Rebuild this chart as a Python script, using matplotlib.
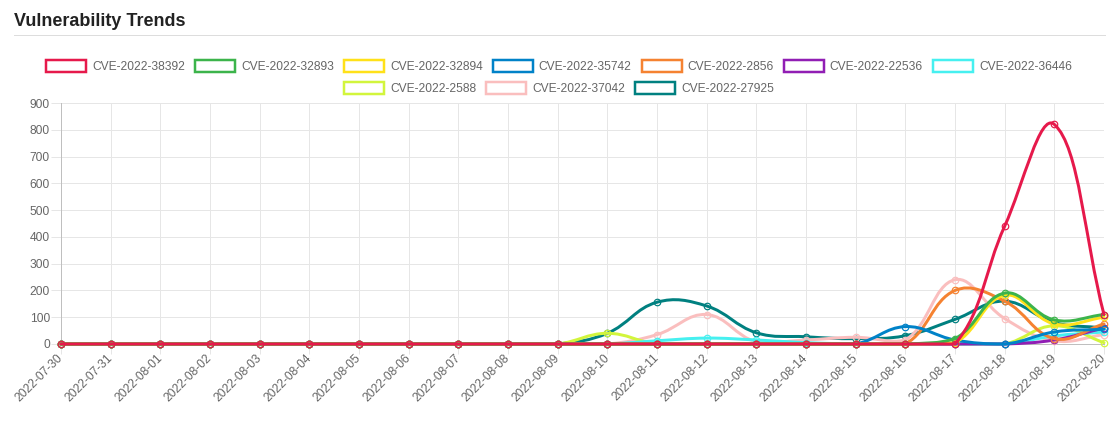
import numpy as np
import pandas as pd
import matplotlib
matplotlib.use("Agg")
import matplotlib.pyplot as plt
from matplotlib.path import Path
from matplotlib.patches import PathPatch, Rectangle
from matplotlib.lines import Line2D

W, H = 1118, 428
DPI = 100
PX = 72 / DPI  # points per pixel

# ---- data ----
dates = [d.strftime("%Y-%m-%d") for d in pd.date_range("2022-07-30", "2022-08-20")]

cve_38392 = [0] * 19 + [440, 820, 110]
cve_32893 = [0] * 18 + [20, 190, 90, 110]
cve_32894 = [0] * 18 + [5, 182, 75, 100]
cve_35742 = [0] * 17 + [65, 15, 0, 45, 55]
cve_2856 = [0] * 18 + [200, 160, 20, 75]
cve_22536 = [0] * 20 + [15, 60]
cve_36446 = [0] * 12 + [12, 22, 15, 5, 0, 0, 0, 0, 30, 45]
cve_2588 = [0] * 11 + [40, 0, 0, 0, 0, 0, 0, 0, 0, 68, 5]
cve_37042 = [0] * 12 + [35, 110, 8, 15, 25, 15, 240, 95, 12, 35]
cve_27925 = [0] * 11 + [40, 156, 142, 42, 27, 20, 31, 92, 160, 80, 60]

names = ["CVE-2022-38392", "CVE-2022-32893", "CVE-2022-32894", "CVE-2022-35742",
         "CVE-2022-2856", "CVE-2022-22536", "CVE-2022-36446", "CVE-2022-2588",
         "CVE-2022-37042", "CVE-2022-27925"]
values = [cve_38392, cve_32893, cve_32894, cve_35742, cve_2856,
          cve_22536, cve_36446, cve_2588, cve_37042, cve_27925]
colors = ["#e6194b", "#3cb44b", "#ffe119", "#0082c8", "#f58231",
          "#911eb4", "#46f0f0", "#d2f53c", "#fabebe", "#008080"]

plt.rcParams["font.family"] = ["Liberation Sans", "DejaVu Sans"]
FS = 12 * PX
GRID = "#e6e6e6"
ZERO = "#bfbfbf"
TXT = "#666666"


def chartjs_spline(ax, xs, ys, tension=0.4):
    """Bezier path like Chart.js v2 splineCurve, built in pixel space."""
    pts = ax.transData.transform(np.column_stack([xs, ys]))
    n = len(pts)
    prev_cp = pts.copy()
    next_cp = pts.copy()
    for i in range(n):
        cur = pts[i]
        prv = pts[i - 1] if i > 0 else cur
        nxt = pts[i + 1] if i < n - 1 else cur
        d01 = np.hypot(*(cur - prv))
        d12 = np.hypot(*(nxt - cur))
        tot = d01 + d12
        s01 = d01 / tot if tot else 0
        s12 = d12 / tot if tot else 0
        prev_cp[i] = cur - tension * s01 * (nxt - prv)
        next_cp[i] = cur + tension * s12 * (nxt - prv)
    bb = ax.bbox
    for arr in (prev_cp, next_cp):
        arr[:, 0] = np.clip(arr[:, 0], bb.x0, bb.x1)
        arr[:, 1] = np.clip(arr[:, 1], bb.y0, bb.y1)
    verts = [pts[0]]
    codes = [Path.MOVETO]
    for i in range(n - 1):
        verts += [next_cp[i], prev_cp[i + 1], pts[i + 1]]
        codes += [Path.CURVE4] * 3
    return Path(ax.transData.inverted().transform(np.array(verts)), codes)


fig = plt.figure(figsize=(W / DPI, H / DPI), dpi=DPI)
fig.patch.set_facecolor("white")

# header
fig.text(14 / W, 1 - 26 / H, "Vulnerability Trends", fontsize=18 * PX,
         fontweight="bold", color="#222222", ha="left", va="baseline")
fig.add_artist(Line2D([14 / W, 1105 / W], [1 - 34.5 / H, 1 - 34.5 / H],
                      transform=fig.transFigure, color="#dddddd", lw=1 * PX))

ax = fig.add_axes([61 / W, 1 - 344 / H, (1104 - 61) / W, (344 - 103) / H])
x = np.arange(len(dates))
ax.set_xlim(0, len(dates) - 1)
ax.set_ylim(0, 900)
ax.set_xticks(x)
ax.set_xticklabels(dates)
ax.set_yticks(np.arange(0, 901, 100))
ax.grid(True, color=GRID, lw=1 * PX, alpha=1)
ax.set_axisbelow(True)
for s in ("top", "right"):
    ax.spines[s].set_visible(False)
for s in ("left", "bottom"):
    ax.spines[s].set_color(ZERO)
    ax.spines[s].set_linewidth(1 * PX)
ax.tick_params(axis="x", length=10 * PX, width=1 * PX, color=GRID, pad=2 * PX,
               labelsize=FS, labelcolor=TXT)
ax.tick_params(axis="y", length=10 * PX, width=1 * PX, color=GRID, pad=1 * PX,
               labelsize=FS, labelcolor=TXT)
for lab in ax.get_xticklabels():
    lab.set_rotation(45)
    lab.set_ha("right")
    lab.set_va("center")
    lab.set_rotation_mode("anchor")

n = len(values)
for i, (vals, col) in enumerate(zip(values, colors)):
    z = 10 + (n - i) * 2
    path = chartjs_spline(ax, x, vals)
    ax.add_patch(PathPatch(path, facecolor="none", edgecolor=col, lw=3 * PX,
                           zorder=z, clip_on=False, capstyle="round", joinstyle="round"))
    ax.plot(x, vals, "o", ls="none", ms=6.5 * PX, mfc="none", mec=col,
            mew=1.2 * PX, zorder=z + 1, clip_on=False)

# legend (chart.js style, centred rows)
renderer = fig.canvas.get_renderer()
box_w, gap, pad = 40, 6, 10
rows = [list(range(7)), list(range(7, 10))]
row_y = [66, 88]
for row, yc in zip(rows, row_y):
    texts, widths = [], []
    for k in row:
        t = fig.text(0, 0, names[k], fontsize=FS, color=TXT, ha="left", va="baseline")
        widths.append(t.get_window_extent(renderer).width)
        texts.append(t)
    total = sum(box_w + gap + w for w in widths) + pad * (len(row) - 1)
    xp = (W - total) / 2
    for t, w, k in zip(texts, widths, row):
        fig.add_artist(Rectangle((xp / W, 1 - (yc + 6) / H), box_w / W, 12 / H,
                                 transform=fig.transFigure, facecolor="white",
                                 edgecolor=colors[k], lw=2.5 * PX))
        t.set_position(((xp + box_w + gap) / W, 1 - (yc + 4) / H))
        xp += box_w + gap + w + pad

fig.savefig("out.png", dpi=DPI)
